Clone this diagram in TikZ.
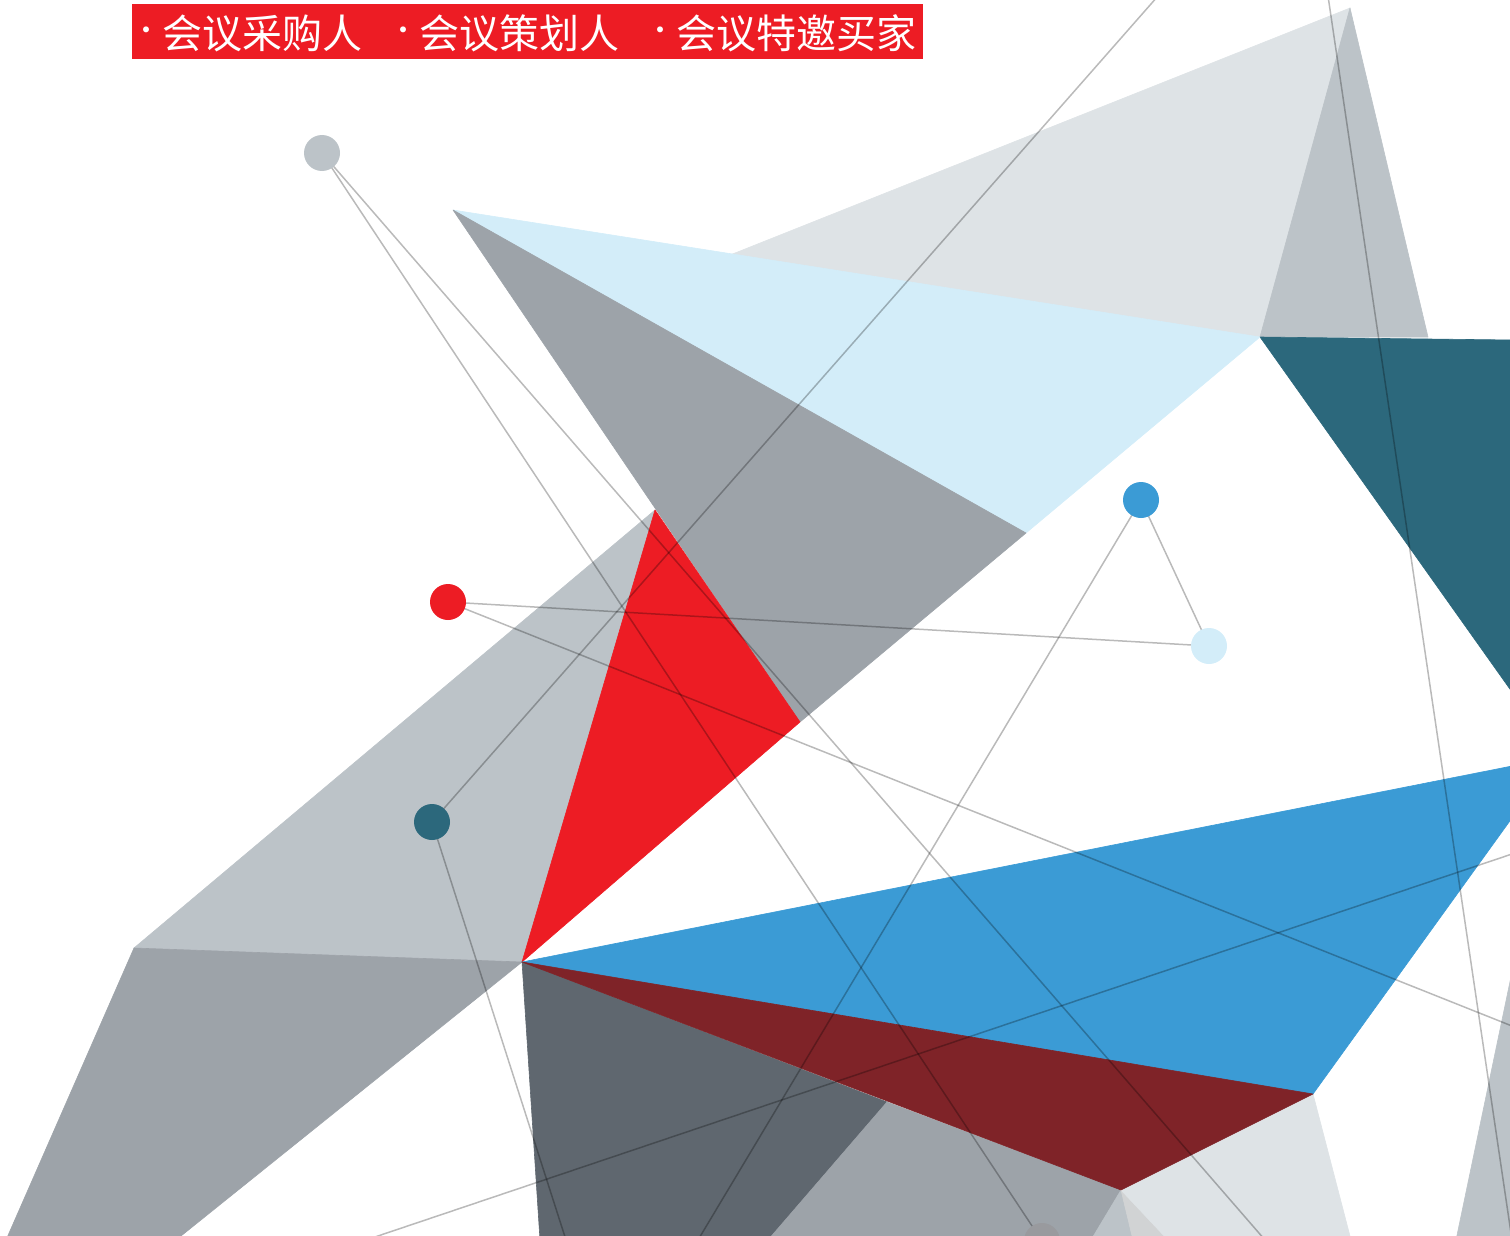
\documentclass[tikz,border=0pt]{standalone}
\usepackage{fontspec}
\newfontfamily\cjk{Noto Sans CJK SC}
\definecolor{palegray}{HTML}{DEE3E6}
\definecolor{lightgray2}{HTML}{BCC3C8}
\definecolor{midgray}{HTML}{9DA3A9}
\definecolor{slate}{HTML}{5F676F}
\definecolor{teal2}{HTML}{2C687C}
\definecolor{skyblue}{HTML}{D3EDF9}
\definecolor{bluemain}{HTML}{3B9BD5}
\definecolor{redmain}{HTML}{ED1C24}
\definecolor{darkred}{HTML}{7F2328}
\definecolor{fainttone}{HTML}{D1D3D4}
\definecolor{dotgray}{HTML}{999A9E}
\pgfdeclarelayer{back}
\pgfdeclarelayer{mid}
\pgfsetlayers{back,mid,main}
\begin{document}
\begin{tikzpicture}[x=0.5pt,y=-0.5pt,
  dot/.style={circle,inner sep=0pt,minimum size=18pt},
  link/.style={draw=black,draw opacity=0.27,line width=0.75pt},
  facet/.style={fill=#1,draw=#1,line width=0.3pt,line join=round}]
\useasboundingbox (0,0) rectangle (1510,1236);
\clip (0,0) rectangle (1510,1236);

% ---------- facets ----------
\begin{pgfonlayer}{back}
\path[facet=palegray] (725,257) -- (1350,8) -- (1260,337) -- cycle;
\path[facet=lightgray2] (1350,8) -- (1428,337) -- (1260,337) -- cycle;
\path[facet=teal2] (1260,337) -- (1512,340) -- (1512,692) -- cycle;
\path[facet=skyblue] (453,210) -- (1260,337) -- (1026,533) -- cycle;
\path[facet=midgray] (453,210) -- (1026,533) -- (800,722) -- cycle;
\path[facet=lightgray2] (134,948) -- (655,510) -- (522,962) -- cycle;
\path[facet=midgray] (134,948) -- (522,962) -- (176,1240) -- (6,1240) -- cycle;
\path[facet=redmain] (655,510) -- (800,722) -- (522,962) -- cycle;
\path[facet=slate] (522,962) -- (887,1102) -- (768,1240) -- (540,1240) -- cycle;
\path[facet=midgray] (887,1102) -- (1121,1190) -- (1091,1240) -- (768,1240) -- cycle;
\path[facet=lightgray2] (1121,1190) -- (1133,1240) -- (1091,1240) -- cycle;
\path[facet=fainttone] (1121,1190) -- (1168,1240) -- (1133,1240) -- cycle;
\path[facet=palegray] (1121,1190) -- (1313,1094) -- (1351,1240) -- (1168,1240) -- cycle;
\path[facet=bluemain] (522,962) -- (1512,766) -- (1512,818) -- (1313,1094) -- cycle;
\path[facet=darkred] (522,962) -- (1313,1094) -- (1121,1190) -- cycle;
\path[facet=lightgray2] (1512,972) -- (1512,1240) -- (1456,1240) -- cycle;
\end{pgfonlayer}

% ---------- dots ----------
\node[dot,fill=lightgray2] (g) at (322,153) {};
\node[dot,fill=redmain] (r) at (448,602) {};
\node[dot,fill=teal2] (t) at (432,822) {};
\node[dot,fill=bluemain] (b) at (1141,500) {};
\node[dot,fill=skyblue] (s) at (1209,646) {};
\node[dot,fill=dotgray] (d) at (1042,1241) {};

% free line ends
\coordinate (e1) at (1265,1240);
\coordinate (e2) at (1158,-4);
\coordinate (e3) at (566,1240);
\coordinate (e4) at (1512,1026);
\coordinate (e5) at (698,1240);
\coordinate (e6) at (366,1240);
\coordinate (e7) at (1512,854);
\coordinate (e8) at (1328,-4);
\coordinate (e9) at (1512,1240);

% ---------- lines ----------
\begin{pgfonlayer}{mid}
\draw[link] (g.center) -- (d.center);
\draw[link] (g.center) -- (e1);
\draw[link] (t.center) -- (e2);
\draw[link] (t.center) -- (e3);
\draw[link] (r.center) -- (s.center);
\draw[link] (r.center) -- (e4);
\draw[link] (b.center) -- (s.center);
\draw[link] (b.center) -- (e5);
\draw[link] (e6) -- (e7);
\draw[link] (e8) -- (e9);
\end{pgfonlayer}

% ---------- banner ----------
\node[fill=redmain,inner sep=0pt,minimum width=395.5pt,minimum height=27.5pt,anchor=north west] (banner) at (132,4) {};
\tikzset{btext/.style={text=white,inner sep=0pt,font=\cjk\fontsize{20}{24}\selectfont},
         bdot/.style={text=white,inner sep=0pt,font=\cjk\fontsize{14}{16}\selectfont}}
\node[bdot] (m1) at (146,34) {·};
\node[bdot] (m2) at (403,34) {·};
\node[bdot] (m3) at (660,34) {·};
\node[btext,anchor=west] (t1) at (162,33) {会议采购人};
\node[btext,anchor=west] (t2) at (419,33) {会议策划人};
\node[btext,anchor=west] (t3) at (676,33) {会议特邀买家};
\end{tikzpicture}
\end{document}
